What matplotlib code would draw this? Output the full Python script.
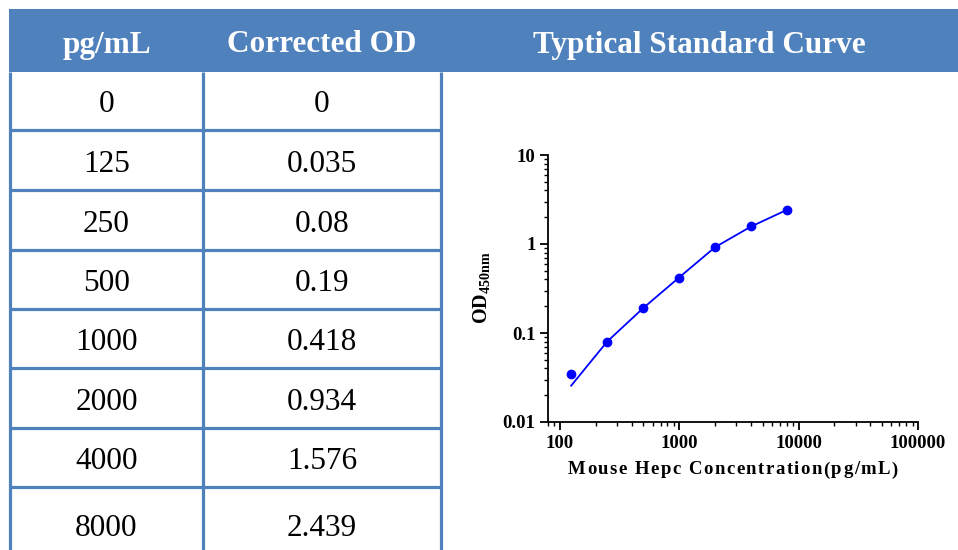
import matplotlib
matplotlib.use('Agg')
import matplotlib.pyplot as plt
from matplotlib.patches import Rectangle
from matplotlib.ticker import LogLocator, NullFormatter

# ---------------- data ----------------
table_headers = ['pg/mL', 'Corrected OD']
table_conc = ['0', '125', '250', '500', '1000', '2000', '4000', '8000']
table_od = ['0', '0.035', '0.08', '0.19', '0.418', '0.934', '1.576', '2.439']
chart_title = 'Typtical Standard Curve'

point_x = [125, 250, 500, 1000, 2000, 4000, 8000]
point_y = [0.035, 0.08, 0.19, 0.418, 0.934, 1.576, 2.439]
fit_x = [125, 250, 500, 1000, 2000, 4000, 8000]
fit_y = [0.0256, 0.080, 0.190, 0.420, 0.920, 1.570, 2.420]

x_ticks = [100, 1000, 10000, 100000]
x_tick_labels = ['100', '1000', '10000', '100000']
y_ticks = [0.01, 0.1, 1, 10]
y_tick_labels = ['0.01', '0.1', '1', '10']
x_label = 'Mouse Hepc Concentration(pg/mL)'

# ---------------- style ----------------
W, H = 958, 550
BLUE = '#4F81BD'
SERIF = 'Liberation Serif'
plt.rcParams['font.family'] = [SERIF, 'DejaVu Serif']
plt.rcParams['mathtext.fontset'] = 'custom'
plt.rcParams['mathtext.rm'] = SERIF
plt.rcParams['mathtext.bf'] = SERIF + ':bold'

fig = plt.figure(figsize=(W / 100, H / 100), dpi=100)
bg = fig.add_axes([0, 0, 1, 1])
bg.set_xlim(0, W)
bg.set_ylim(H, 0)
bg.axis('off')

# header band
bg.add_patch(Rectangle((9, 9), W - 9, 63, facecolor=BLUE, edgecolor='none'))
col_edges = [10, 203, 441]
row_edges = [72, 130, 190, 250, 309, 368, 428, 487, 563]
lw = 2.3
for x in col_edges:
    bg.plot([x, x], [72, H + 5], color=BLUE, lw=lw, solid_capstyle='butt')
for y in row_edges[1:-1]:
    bg.plot([col_edges[0], col_edges[-1]], [y, y], color=BLUE, lw=lw, solid_capstyle='butt')

hdr_centers = [(col_edges[0] + col_edges[1]) / 2, (col_edges[1] + col_edges[2]) / 2]
for cx, t in zip(hdr_centers, table_headers):
    bg.text(cx, 45, t, ha='center', va='center', color='white',
            fontsize=22.5, fontweight='bold', family=SERIF)
bg.text((441 + W) / 2, 45, chart_title, ha='center', va='center', color='white',
        fontsize=22.5, fontweight='bold', family=SERIF)

for i, (c, o) in enumerate(zip(table_conc, table_od)):
    cy = (row_edges[i] + row_edges[i + 1]) / 2 + 4
    bg.text(hdr_centers[0], cy, c, ha='center', va='center', color='black',
            fontsize=22.5, family=SERIF)
    bg.text(hdr_centers[1], cy, o, ha='center', va='center', color='black',
            fontsize=22.5, family=SERIF)

# ---------------- chart ----------------
L, R, T, B = 548, 918, 155, 422
ax = fig.add_axes([L / W, 1 - B / H, (R - L) / W, (B - T) / H])
ax.set_xscale('log')
ax.set_yscale('log')
ax.set_xlim(80, 100000)
ax.set_ylim(0.01, 10)
ax.plot(fit_x, fit_y, color='#0000FF', lw=1.3)
ax.plot(point_x, point_y, 'o', color='#0000FF', ms=6, mec='#0000FF')

for s in ['top', 'right']:
    ax.spines[s].set_visible(False)
for s in ['left', 'bottom']:
    ax.spines[s].set_linewidth(1.3)
ax.set_xticks(x_ticks)
ax.set_xticklabels(x_tick_labels)
ax.set_yticks(y_ticks)
ax.set_yticklabels(y_tick_labels)
ax.xaxis.set_minor_locator(LogLocator(base=10, subs=range(2, 10), numticks=20))
ax.yaxis.set_minor_locator(LogLocator(base=10, subs=range(2, 10), numticks=20))
ax.xaxis.set_minor_formatter(NullFormatter())
ax.yaxis.set_minor_formatter(NullFormatter())
ax.tick_params(which='major', direction='out', length=6, width=1.3, labelsize=13.5, pad=3)
ax.tick_params(which='minor', direction='out', length=3, width=1.0)
for lab in ax.get_xticklabels() + ax.get_yticklabels():
    lab.set_fontweight('bold')
    lab.set_family(SERIF)

# y label with subscript
bg.text(482, 288, r'$\mathbf{OD_{450nm}}$', rotation=90, ha='center', va='center',
        fontsize=14.5, color='black')

# letter-spaced x label
renderer = fig.canvas.get_renderer()
fs = 13.5
def text_width(s):
    t = bg.text(0, 0, s + '|', fontsize=fs, fontweight='bold', family=SERIF)
    w = t.get_window_extent(renderer).width
    t.remove()
    t = bg.text(0, 0, '|', fontsize=fs, fontweight='bold', family=SERIF)
    w0 = t.get_window_extent(renderer).width
    t.remove()
    return w - w0

target = 330.0
natural = text_width(x_label)
n = len(x_label)
spacing = (target - natural) / (n - 1)
x0 = (L + R) / 2 - target / 2
for i, ch in enumerate(x_label):
    xi = x0 + text_width(x_label[:i]) + i * spacing
    bg.text(xi, 470, ch, ha='left', va='center', fontsize=fs, fontweight='bold',
            family=SERIF, color='black')

fig.savefig('out.png', dpi=100)
